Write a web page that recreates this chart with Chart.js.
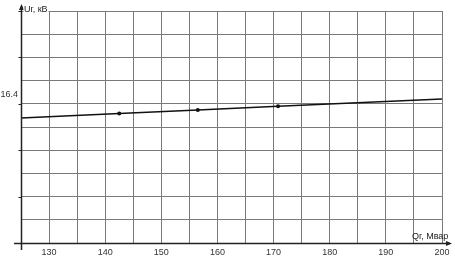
<!DOCTYPE html>
<html><head><meta charset="utf-8">
<script src="https://cdn.jsdelivr.net/npm/chart.js@4"></script>
<style>html,body{margin:0;padding:0;background:#fff}#wrap{width:455px;height:263px}</style>
</head><body><div id="wrap"><canvas id="c" width="455" height="263"></canvas></div>
<script>
const qValues = [125, 142.5, 156.5, 170.8, 200];
const uValues = [16.339, 16.358, 16.373, 16.389, 16.421];
const markerRadius = [0, 2, 2, 2, 0];
const xTickLabels = [130, 140, 150, 160, 170, 180, 190, 200];
const yTickLabels = [16.4];
const xTitle = 'Qг, Мвар';
const yTitle = 'Uг, кВ';

const axesPlugin = {
  id: 'axesPlugin',
  afterDraw(chart) {
    const ctx = chart.ctx, a = chart.chartArea;
    const ys = chart.scales.y;
    ctx.save();
    ctx.strokeStyle = '#222'; ctx.fillStyle = '#222'; ctx.lineWidth = 1.5;
    const x0 = Math.round(a.left) + 0.5, y0 = Math.round(a.bottom) + 0.5;
    ctx.beginPath(); ctx.moveTo(x0, 250); ctx.lineTo(x0, 6); ctx.stroke();
    ctx.beginPath(); ctx.moveTo(x0 - 2.5, 10); ctx.lineTo(x0, 4); ctx.lineTo(x0 + 2.5, 10); ctx.closePath(); ctx.fill();
    ctx.beginPath(); ctx.moveTo(14, y0); ctx.lineTo(450, y0); ctx.stroke();
    ctx.beginPath(); ctx.moveTo(446, y0 - 2.5); ctx.lineTo(452, y0); ctx.lineTo(446, y0 + 2.5); ctx.closePath(); ctx.fill();
    ctx.lineWidth = 1;
    for (let v = 15.8; v < 16.81; v += 0.2) {
      const py = Math.round(ys.getPixelForValue(v)) + 0.5;
      ctx.beginPath(); ctx.moveTo(x0 - 3, py); ctx.lineTo(x0, py); ctx.stroke();
    }
    ctx.fillStyle = '#fff';
    ctx.fillRect(x0 + 2, 5, 25, 10);
    ctx.fillStyle = '#222';
    ctx.font = '9px "Liberation Sans", Arial, sans-serif';
    ctx.textBaseline = 'middle'; ctx.textAlign = 'left';
    ctx.fillText(yTitle, 24, 10);
    ctx.fillText(xTitle, 412, 237);
    ctx.restore();
  }
};

new Chart(document.getElementById('c'), {
  type: 'scatter',
  data: {
    datasets: [{
      data: qValues.map((q, i) => ({x: q, y: uValues[i]})),
      showLine: true,
      borderColor: '#111',
      backgroundColor: '#111',
      borderWidth: 1.5,
      pointRadius: markerRadius,
      pointHoverRadius: markerRadius,
      pointBorderWidth: 0,
      tension: 0
    }]
  },
  plugins: [axesPlugin],
  options: {
    responsive: false,
    animation: false,
    events: [],
    layout: {padding: {top: 11, right: 13, left: 0, bottom: 0}},
    plugins: {legend: {display: false}, tooltip: {enabled: false}},
    scales: {
      x: {
        type: 'linear', min: 125, max: 200,
        afterFit(s) { s.height = 20; },
        border: {display: false},
        grid: {color: '#7a7a7a', lineWidth: 1, drawTicks: false},
        ticks: {
          stepSize: 5, padding: 4, maxRotation: 0, autoSkip: false,
          color: '#333', font: {size: 9, family: '"Liberation Sans", Arial, sans-serif'},
          callback: v => xTickLabels.includes(Math.round(v * 10) / 10) ? String(v) : ''
        }
      },
      y: {
        type: 'linear', min: 15.8, max: 16.8,
        afterFit(s) { s.width = 21; },
        border: {display: false},
        grid: {color: '#7a7a7a', lineWidth: 1, drawTicks: false},
        ticks: {
          stepSize: 0.1, padding: 3, autoSkip: false, labelOffset: -9,
          color: '#333', font: {size: 9, family: '"Liberation Sans", Arial, sans-serif'},
          callback: v => yTickLabels.some(t => Math.abs(t - v) < 1e-6) ? v.toFixed(1) : ''
        }
      }
    }
  }
});
</script></body></html>
